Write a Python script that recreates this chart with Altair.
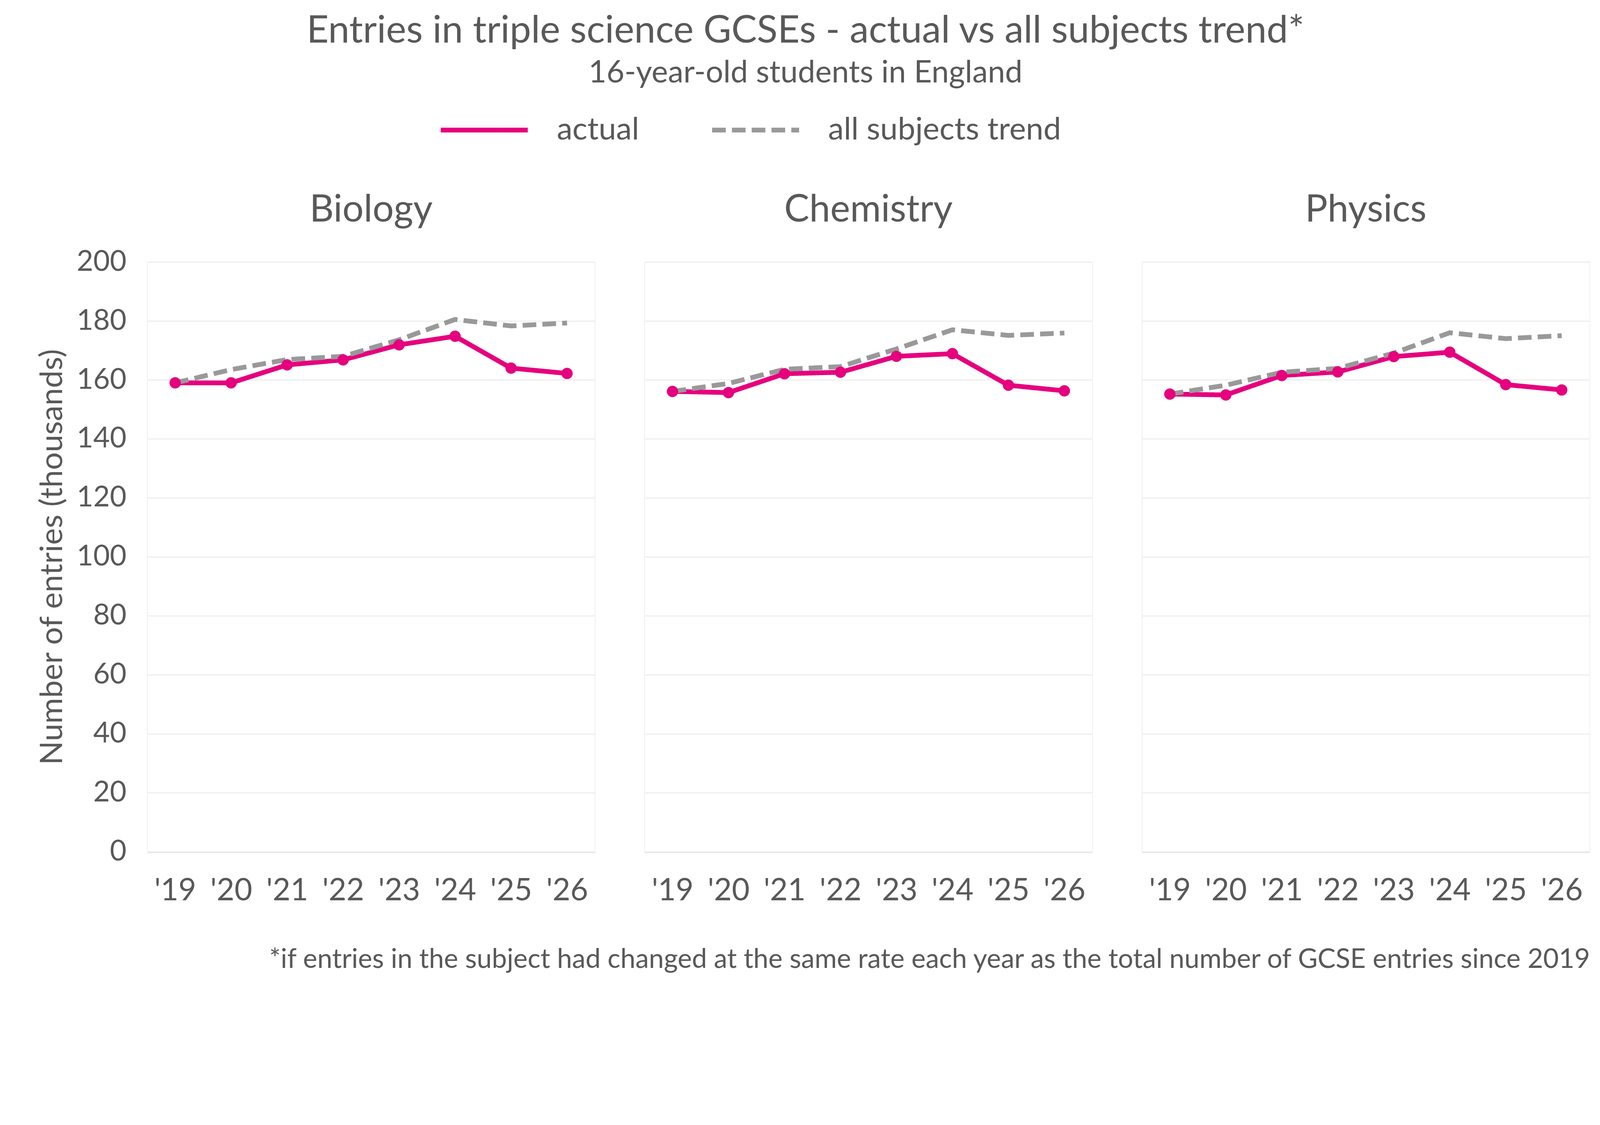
import altair as alt
import pandas as pd

years = ["'19", "'20", "'21", "'22", "'23", "'24", "'25", "'26"]
subjects = ["Biology", "Chemistry", "Physics"]
series_names = ["actual", "all subjects trend"]

bio_actual = [159.0, 159.0, 165.1, 166.8, 171.9, 174.8, 164.0, 162.2]
bio_trend = [159.0, 163.5, 166.9, 168.0, 173.6, 180.5, 178.3, 179.3]
chem_actual = [156.1, 155.7, 162.1, 162.6, 168.0, 168.9, 158.2, 156.3]
chem_trend = [156.1, 158.8, 163.6, 164.5, 170.5, 177.0, 175.1, 175.9]
phys_actual = [155.2, 154.9, 161.5, 162.7, 167.9, 169.4, 158.4, 156.6]
phys_trend = [155.2, 158.2, 162.6, 163.9, 169.1, 176.0, 174.0, 175.0]

footnote = ("*if entries in the subject had changed at the same rate each year "
            "as the total number of GCSE entries since 2019")

rows = []
for subj, act, trd in [("Biology", bio_actual, bio_trend),
                       ("Chemistry", chem_actual, chem_trend),
                       ("Physics", phys_actual, phys_trend)]:
    for y, a, t in zip(years, act, trd):
        rows.append({"subject": subj, "year": y, "series": "actual", "value": a})
        rows.append({"subject": subj, "year": y, "series": "all subjects trend", "value": t})
df = pd.DataFrame(rows)

TXT = "#595959"
PINK = "#E6007E"
GREY = "#999999"
FONT = "Lato"

x_enc = alt.X("year:O", sort=years, title=None,
              scale=alt.Scale(paddingOuter=0.5),
              axis=alt.Axis(labelAngle=0, ticks=False, grid=False, labelFontSize=90,
                            labelColor=TXT, labelFont=FONT, labelPadding=70,
                            domainColor="#D9D9D9", domainWidth=5))
y_enc = alt.Y("value:Q", title="Number of entries (thousands)",
              scale=alt.Scale(domain=[0, 200], nice=False),
              axis=alt.Axis(values=list(range(0, 201, 20)), ticks=False, domain=False,
                            labelFontSize=84, labelColor=TXT, labelFont=FONT,
                            labelPadding=60, gridColor="#F0F0F0", gridWidth=4,
                            titleFontSize=92, titleColor=TXT, titleFont=FONT,
                            titleFontWeight="normal", titlePadding=30))

lines = alt.Chart().mark_line(strokeWidth=14).encode(
    x=x_enc, y=y_enc,
    color=alt.Color("series:N", scale=alt.Scale(domain=series_names, range=[PINK, GREY]),
                    title=None,
                    legend=alt.Legend(orient="none", direction="horizontal",
                                      legendX=853, legendY=-521,
                                      symbolType="stroke", symbolSize=65000,
                                      symbolStrokeWidth=14, labelFontSize=92,
                                      labelColor=TXT, labelFont=FONT, labelOffset=78,
                                      columnPadding=185, labelLimit=2000)),
    strokeDash=alt.StrokeDash("series:N",
                              scale=alt.Scale(domain=series_names, range=[[1, 0], [40, 18]]),
                              title=None, legend=None),
    order=alt.Order("series:N", sort="descending"),
)

points = alt.Chart().mark_point(filled=True, size=1100, opacity=1, color=PINK).encode(
    x=x_enc, y=y_enc,
).transform_filter(alt.datum.series == "actual")

chart = alt.layer(lines, points, data=df).properties(width=1312, height=1727).facet(
    column=alt.Column("subject:N", sort=subjects, title=footnote,
                      header=alt.Header(labelOrient="top", titleOrient="bottom",
                                        labelFontSize=110, labelColor=TXT, labelFont=FONT,
                                        labelPadding=94,
                                        titleFontSize=79, titleColor=TXT, titleFont=FONT,
                                        titleFontWeight="normal", titleAnchor="end",
                                        titlePadding=108)),
    spacing=143,
).properties(
    title=alt.TitleParams(
        text="Entries in triple science GCSEs - actual vs all subjects trend*",
        subtitle="16-year-old students in England",
        fontSize=112, subtitleFontSize=91, color=TXT, subtitleColor=TXT,
        font=FONT, subtitleFont=FONT, fontWeight="normal", anchor="middle",
        subtitlePadding=20, offset=-15, dx=-23),
    padding={"left": 98, "top": -155, "right": 20, "bottom": -152},
).configure_view(stroke="transparent", strokeWidth=0).configure(background="white")

chart.save("out.html", embed_options={"renderer": "svg", "actions": False})
